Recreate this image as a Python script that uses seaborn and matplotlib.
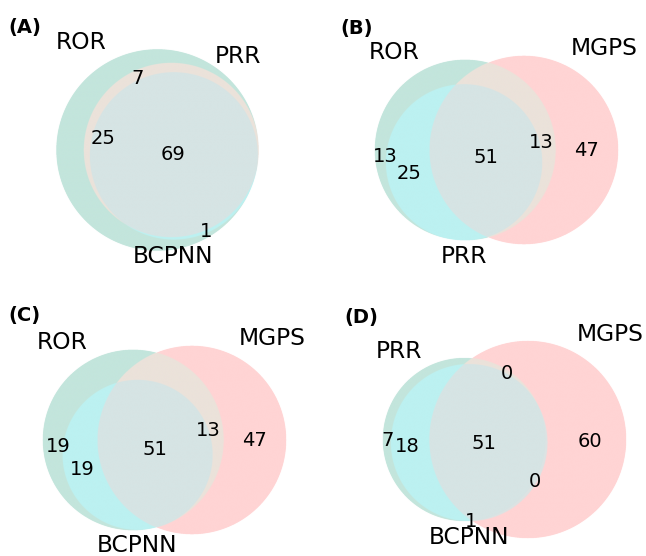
import numpy as np
import matplotlib
matplotlib.use("Agg")
import matplotlib.pyplot as plt
from matplotlib.colors import to_rgba
import seaborn as sns

sns.set_theme(style="white")
plt.rcParams["font.family"] = ["DejaVu Sans"]
plt.rcParams["text.color"] = "black"

# Region sizes, ordered (A only, B only, A&B, C only, A&C, B&C, A&B&C)
tags = ["(A)", "(B)", "(C)", "(D)"]
names_a = ["ROR", "PRR", "BCPNN"]
names_b = ["ROR", "MGPS", "PRR"]
names_c = ["ROR", "MGPS", "BCPNN"]
names_d = ["PRR", "MGPS", "BCPNN"]
sizes_a = [25, 0, 7, 0, 1, 0, 69]
sizes_b = [13, 47, 13, 0, 25, 0, 51]
sizes_c = [19, 47, 13, 0, 19, 0, 51]
sizes_d = [7, 60, 0, 1, 18, 0, 51]

# Fill colour of each region, same order as the sizes
region_colors = ["#c3e5dc", "#ffd4d4", "#ebe2da", "#bdf0f0",
                 "#bcf1f1", "#dde3e3", "#d6e4e4"]
palette = sns.color_palette(region_colors)

# membership (A, B, C) of each region
REGION_BITS = [(1, 0, 0), (0, 1, 0), (1, 1, 0), (0, 0, 1),
               (1, 0, 1), (0, 1, 1), (1, 1, 1)]

FIG_W, FIG_H = 646, 556
BOX_W, BOX_H = 283, 238
box_centres = [(157, 150), (496, 150), (164, 440), (504, 440)]
tag_xy = [(8, 33), (340, 34), (8, 321), (344, 323)]


def lens_area(r1, r2, d):
    if d >= r1 + r2:
        return 0.0
    if d <= abs(r1 - r2):
        return np.pi * min(r1, r2) ** 2
    a1 = r1 ** 2 * np.arccos((d * d + r1 * r1 - r2 * r2) / (2 * d * r1))
    a2 = r2 ** 2 * np.arccos((d * d + r2 * r2 - r1 * r1) / (2 * d * r2))
    a3 = 0.5 * np.sqrt((-d + r1 + r2) * (d + r1 - r2) * (d - r1 + r2) * (d + r1 + r2))
    return a1 + a2 - a3


def centre_distance(r1, r2, area, tol=1e-10):
    small, big = min(r1, r2), max(r1, r2)
    if area < tol:
        return r1 + r2
    if abs(np.pi * small ** 2 - area) < tol:
        return big - small + tol
    lo, hi = big - small, big + small
    for _ in range(200):
        mid = 0.5 * (lo + hi)
        if lens_area(r1, r2, mid) > area:
            lo = mid
        else:
            hi = mid
    return 0.5 * (lo + hi)


def venn3_layout(sizes):
    s = np.asarray(sizes, float) / np.sum(sizes)
    areas = np.array([s[0] + s[2] + s[4] + s[6],
                      s[1] + s[2] + s[5] + s[6],
                      s[3] + s[4] + s[5] + s[6]])
    ab, bc, ac = s[2] + s[6], s[5] + s[6], s[4] + s[6]
    radii = np.sqrt(areas / np.pi)
    dists = [centre_distance(radii[0], radii[1], ab),
             centre_distance(radii[1], radii[2], bc),
             centre_distance(radii[2], radii[0], ac)]
    for i in range(3):
        j, k = (i + 1) % 3, (i + 2) % 3
        if dists[i] > dists[j] + dists[k]:
            a, b = (j, k) if dists[j] < dists[k] else (k, j)
            dists[i] = dists[b] + dists[a] * 0.8
    d_ab, d_bc, d_ac = dists
    cx = (d_ac ** 2 - d_bc ** 2 + d_ab ** 2) / (2 * d_ab)
    cy = -np.sqrt(max(d_ac ** 2 - cx ** 2, 0.0))
    centres = np.array([[0.0, 0.0], [d_ab, 0.0], [cx, cy]])
    w = radii ** 2
    centres = centres - (w @ centres) / w.sum()
    return centres, radii


def region_arcs(centres, radii, bits, n=5760):
    """Arcs bounding one region: (sample count, arc length, midpoint) per arc."""
    t = np.linspace(0, 2 * np.pi, n, endpoint=False)
    arcs = []
    for i in range(3):
        pts = centres[i] + radii[i] * np.column_stack([np.cos(t), np.sin(t)])
        ok = np.ones(n, bool)
        for j in range(3):
            if j == i:
                continue
            inside = np.hypot(*(pts - centres[j]).T) < radii[j]
            ok &= inside if bits[j] else ~inside
        if not ok.any():
            continue
        if ok.all():
            arcs.append((n, n * radii[i], centres[i]))
            continue
        shift = int(np.argmin(ok))
        okr = np.roll(ok, -shift)
        ptr = np.roll(pts, -shift, axis=0)
        edges = np.flatnonzero(np.diff(np.concatenate([[0], okr.astype(int), [0]])))
        for s0, e0 in zip(edges[::2], edges[1::2]):
            arcs.append((e0 - s0, (e0 - s0) * radii[i], ptr[(s0 + e0 - 1) // 2]))
    return [a for a in arcs if a[0] >= 2]


def label_position(arcs):
    mids = np.array([a[2] for a in arcs])
    if len(arcs) <= 2:
        return mids.mean(axis=0)
    return np.average(mids, axis=0, weights=np.array([a[1] for a in arcs]))


def draw_panel(ax, sizes, names):
    centres, radii = venn3_layout(sizes)
    lo = (centres - radii[:, None]).min(0) - 0.1
    hi = (centres + radii[:, None]).max(0) + 0.1
    nx = 1400
    ny = int(nx * (hi[1] - lo[1]) / (hi[0] - lo[0]))
    X, Y = np.meshgrid(np.linspace(lo[0], hi[0], nx), np.linspace(lo[1], hi[1], ny))
    code = np.zeros(X.shape, int)
    for i in range(3):
        inside = (X - centres[i, 0]) ** 2 + (Y - centres[i, 1]) ** 2 < radii[i] ** 2
        code += inside.astype(int) << i
    lut = np.zeros((8, 4))
    lut[0] = (1.0, 1.0, 1.0, 0.0)
    for k, col in enumerate(palette):
        lut[k + 1] = to_rgba(col)
    ax.imshow(lut[code], origin="lower", extent=(lo[0], hi[0], lo[1], hi[1]),
              interpolation="antialiased", interpolation_stage="rgba")

    for k, bits in enumerate(REGION_BITS):
        arcs = region_arcs(centres, radii, bits)
        if len(arcs) < 2:
            continue
        x, y = label_position(arcs)
        ax.text(x, y, str(sizes[k]), ha="center", va="center", fontsize=14)

    r = radii
    ax.text(centres[0, 0] - r[0] / 2, centres[0, 1] + r[0], names[0],
            ha="right", va="baseline", fontsize=16.8)
    ax.text(centres[1, 0] + r[1] / 2, centres[1, 1] + r[1], names[1],
            ha="left", va="baseline", fontsize=16.8)
    ax.text(centres[2, 0], centres[2, 1] - r[2] * 1.06, names[2],
            ha="center", va="top", fontsize=16.8)

    ax.set_xlim(lo[0], hi[0])
    ax.set_ylim(lo[1], hi[1])
    ax.set_aspect("equal", adjustable="box")
    ax.set_axis_off()


fig = plt.figure(figsize=(FIG_W / 100, FIG_H / 100), dpi=100)
panels = [(sizes_a, names_a), (sizes_b, names_b), (sizes_c, names_c), (sizes_d, names_d)]
for (sizes, names), (bx, by), tag, (tx, ty) in zip(panels, box_centres, tags, tag_xy):
    ax = fig.add_axes([(bx - BOX_W / 2) / FIG_W, 1 - (by + BOX_H / 2) / FIG_H,
                       BOX_W / FIG_W, BOX_H / FIG_H])
    draw_panel(ax, sizes, names)
    fig.text(tx / FIG_W, 1 - ty / FIG_H, tag, fontsize=14, fontweight="bold",
             ha="left", va="baseline")

fig.savefig("out.png", dpi=100, facecolor="white")
